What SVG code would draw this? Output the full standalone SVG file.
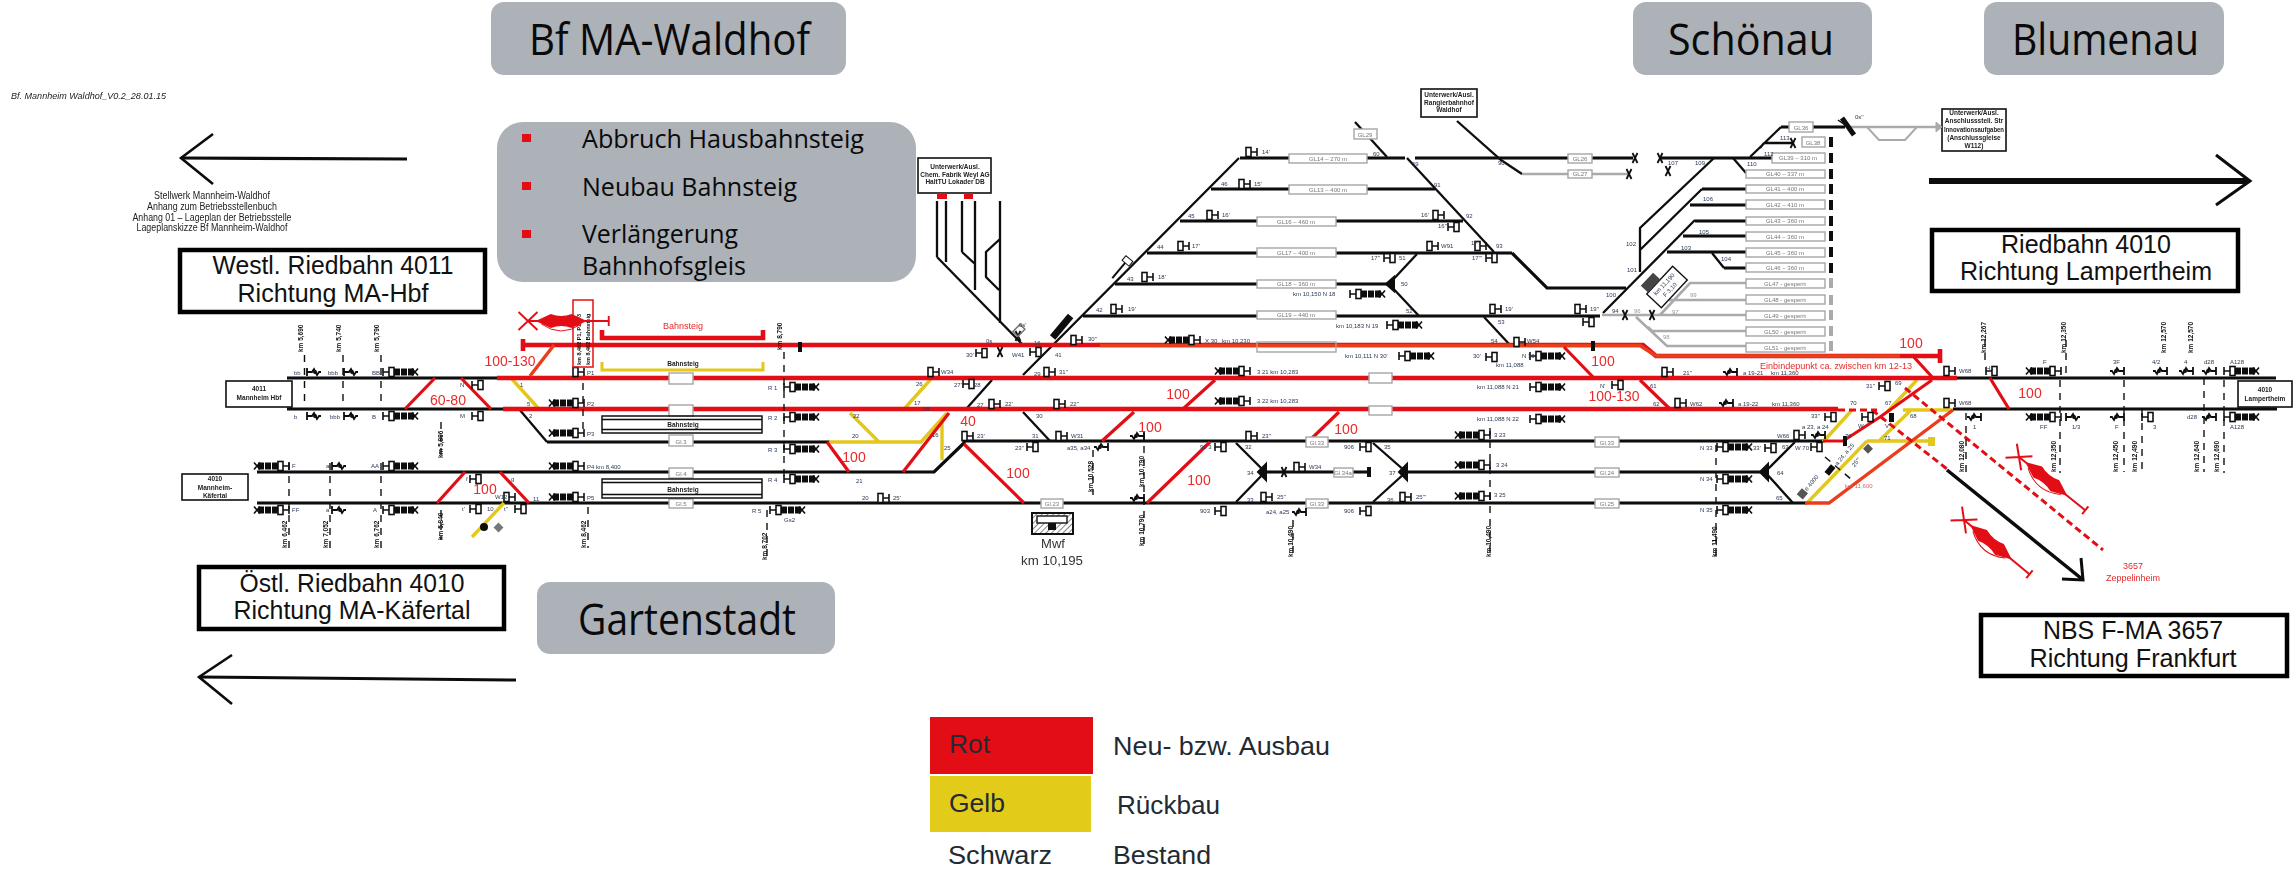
<svg xmlns="http://www.w3.org/2000/svg" width="2293" height="872" viewBox="0 0 2293 872">
<style>
text{font-family:"Liberation Sans",Arial,sans-serif;fill:#1c1c1c}
.h{font-family:"Open Sans",sans-serif;fill:#0a0a0a}
.bx{fill:#adb1b8}
.lab{fill:#fff;stroke:#000;stroke-width:4.5}
.lt{font-size:25px;text-anchor:middle;fill:#111}
.leg{font-size:26px;fill:#222a33}
.sb{fill:#fff;stroke:#111;stroke-width:1.6}
.st{font-size:6.5px;text-anchor:middle;font-weight:bold;fill:#222}
.k,.r,.r2,.r3,.r4,.o,.y,.y2,.g,.g2,.d,.kt,.rd{fill:none}
.k{stroke:#0c0c0c;stroke-width:3.2}
.kt{stroke:#0c0c0c;stroke-width:2.3}
.r{stroke:#e30e15;stroke-width:4.6}
.r2{stroke:#e30e15;stroke-width:3.2}
.r3{stroke:#e30e15;stroke-width:4.6}
.r4{stroke:#e30e15;stroke-width:3}
.o{stroke:#ea3c1e;stroke-width:3.4}
.y{stroke:#e3c71c;stroke-width:3.4}
.y2{stroke:#e3c71c;stroke-width:3}
.g{stroke:#aaa;stroke-width:2.6}
.g2{stroke:#aaa;stroke-width:2}
.d{stroke:#111;stroke-width:1.4;stroke-dasharray:7 6}
.rd{stroke:#e30e15;stroke-width:3;stroke-dasharray:7 4}
.gl{fill:#fff;stroke:#a6a6a6;stroke-width:1.4}
.gt{font-size:6px;text-anchor:middle;fill:#777}
.s{font-size:6px;fill:#2a3a55}
.gy{font-size:6px;fill:#999}
.v{font-size:6.5px;font-weight:bold;fill:#111}
.red{fill:#ea2a2a;font-size:14px;text-anchor:middle}
.rt{fill:#e82a2a;font-size:9px}
.soft{filter:url(#soft)}
</style>
<defs>
<filter id="soft" x="0" y="0" width="100%" height="100%" filterUnits="userSpaceOnUse" primitiveUnits="userSpaceOnUse"><feGaussianBlur stdDeviation="0.45"/></filter>
<g id="sig"><path d="M0-4V4M0 0H-6" fill="none" stroke="#111" stroke-width="1.6"/><rect x="-11" y="-4.5" width="5" height="9" fill="#fff" stroke="#111" stroke-width="1.6"/></g>
<use id="sigm" href="#sig" transform="scale(-1 1)"/>
<g id="blob"><use href="#sig"/><path d="M-11 0H-31" stroke="#111" stroke-width="7" stroke-dasharray="6 1"/><path d="M-35-3.500L-29 3.500M-35 3.500L-29-3.500" stroke="#111" stroke-width="1.600"/></g>
<use id="blobm" href="#blob" transform="scale(-1 1)"/>
<g id="sq"><path d="M0-4V4M0 0H-5l-2-3 -3 6 -2-3H-14" fill="none" stroke="#111" stroke-width="1.8"/><circle cx="-8" cy="0" r="2" fill="#111"/></g>
<use id="sqm" href="#sq" transform="scale(-1 1)"/>
<g id="xm"><path d="M-2.500-5L2.500 5M-2.500 5L2.500-5" stroke="#111" stroke-width="1.800"/></g>
<rect id="stop" x="-2" y="-5" width="4" height="10" fill="#111"/>
<rect id="stopg" x="-2" y="-5" width="4" height="10" fill="#aaa"/>
<g id="rx"><path d="M0 0H85M85-5V5M-10-9L10 9M-10 9L10-9" fill="none" stroke="#e30e15" stroke-width="2"/><path d="M8 0L24-7Q35-3 46-7L62 0L46 7Q35 3 24 7Z" fill="#e30e15"/><path d="M14 3Q35 17 56 3" fill="none" stroke="#e30e15" stroke-width="1"/></g>
<pattern id="hat" width="4" height="4" patternUnits="userSpaceOnUse" patternTransform="rotate(45)"><path d="M0 0V4" stroke="#111" stroke-width="1"/></pattern>
</defs>
<rect width="2293" height="872" fill="#fff"/>

<g id="plan-title" class="soft">
<text x="11" y="99" font-size="9" font-style="italic" textLength="155" lengthAdjust="spacingAndGlyphs">Bf. Mannheim Waldhof_V0.2_28.01.15</text>
<text x="212" y="199" font-size="10" text-anchor="middle" textLength="116" lengthAdjust="spacingAndGlyphs">Stellwerk Mannheim-Waldhof</text>
<text x="212" y="210" font-size="10" text-anchor="middle" textLength="130" lengthAdjust="spacingAndGlyphs">Anhang zum Betriebsstellenbuch</text>
<text x="212" y="221" font-size="10" text-anchor="middle" textLength="159" lengthAdjust="spacingAndGlyphs">Anhang 01 – Lageplan der Betriebsstelle</text>
<text x="212" y="231" font-size="10" text-anchor="middle" textLength="151" lengthAdjust="spacingAndGlyphs">Lageplanskizze Bf Mannheim-Waldhof</text>
</g>

<g id="node-waldhof"><rect class="bx" x="491" y="2" width="355" height="73" rx="13"/><text class="h" x="529" y="55" font-size="44" textLength="281" lengthAdjust="spacingAndGlyphs">Bf MA-Waldhof</text></g>
<g id="node-schoenau"><rect class="bx" x="1633" y="2" width="239" height="73" rx="13"/><text class="h" x="1668" y="55" font-size="44" textLength="166" lengthAdjust="spacingAndGlyphs">Schönau</text></g>
<g id="node-blumenau"><rect class="bx" x="1984" y="2" width="240" height="73" rx="13"/><text class="h" x="2012" y="55" font-size="44" textLength="187" lengthAdjust="spacingAndGlyphs">Blumenau</text></g>
<g id="node-gartenstadt"><rect class="bx" x="537" y="582" width="298" height="72" rx="13"/><text class="h" x="578" y="635" font-size="44" textLength="218" lengthAdjust="spacingAndGlyphs">Gartenstadt</text></g>
<g id="node-massnahmen"><rect class="bx" x="497" y="122" width="419" height="160" rx="26"/>
<g fill="#e30e15"><rect x="522" y="134" width="9" height="8"/><rect x="522" y="182" width="9" height="8"/><rect x="522" y="230" width="9" height="8"/></g>
<text class="h" x="582" y="148" font-size="26" textLength="282" lengthAdjust="spacingAndGlyphs">Abbruch Hausbahnsteig</text>
<text class="h" x="582" y="196" font-size="26" textLength="215" lengthAdjust="spacingAndGlyphs">Neubau Bahnsteig</text>
<text class="h" x="582" y="243" font-size="26" textLength="156" lengthAdjust="spacingAndGlyphs">Verlängerung</text>
<text class="h" x="582" y="275" font-size="26" textLength="164" lengthAdjust="spacingAndGlyphs">Bahnhofsgleis</text></g>

<g id="node-westl"><rect class="lab" x="180" y="250" width="305" height="62"/><text class="lt" x="333" y="274" textLength="241" lengthAdjust="spacingAndGlyphs">Westl. Riedbahn 4011</text><text class="lt" x="333" y="302" textLength="191" lengthAdjust="spacingAndGlyphs">Richtung MA-Hbf</text></g>
<g id="node-lampertheim"><rect class="lab" x="1932" y="230" width="306" height="61"/><text class="lt" x="2086" y="253" textLength="170" lengthAdjust="spacingAndGlyphs">Riedbahn 4010</text><text class="lt" x="2086" y="280" textLength="252" lengthAdjust="spacingAndGlyphs">Richtung Lampertheim</text></g>
<g id="node-oestl"><rect class="lab" x="199" y="567" width="305" height="62"/><text class="lt" x="352" y="592" textLength="225" lengthAdjust="spacingAndGlyphs">Östl. Riedbahn 4010</text><text class="lt" x="352" y="619" textLength="237" lengthAdjust="spacingAndGlyphs">Richtung MA-Käfertal</text></g>
<g id="node-nbs"><rect class="lab" x="1981" y="615" width="306" height="61"/><text class="lt" x="2133" y="639" textLength="180" lengthAdjust="spacingAndGlyphs">NBS F-MA 3657</text><text class="lt" x="2133" y="667" textLength="207" lengthAdjust="spacingAndGlyphs">Richtung Frankfurt</text></g>

<g id="direction-arrows" fill="none" stroke="#0c0c0c">
<path d="M407 159L181 158" stroke-width="3.200"/><path d="M213 134L181 158L213 184" stroke-width="2.600"/>
<path d="M1929 181H2248" stroke-width="6"/><path d="M2216 155L2250 181L2216 205" stroke-width="3"/>
<path d="M516 680L199 677" stroke-width="3"/><path d="M232 655L199 677L232 704" stroke-width="2.600"/>
<path d="M1947 470L2082 579" stroke-width="3.500"/><path d="M2081 558L2083 580L2062 579" stroke-width="3"/>
</g>

<g id="station-boxes" class="soft">
<g id="node-4011"><rect class="sb" x="226" y="381" width="66" height="26"/><text class="st" x="259" y="391">4011</text><text class="st" x="259" y="400">Mannheim Hbf</text></g>
<g id="node-4010-k"><rect class="sb" x="182" y="474" width="66" height="26"/><text class="st" x="215" y="481">4010</text><text class="st" x="215" y="490">Mannheim-</text><text class="st" x="215" y="498">Käfertal</text></g>
<g id="node-4010-l"><rect class="sb" x="2238" y="381" width="54" height="26"/><text class="st" x="2265" y="392">4010</text><text class="st" x="2265" y="401">Lampertheim</text></g>
<g id="node-uw1"><rect class="sb" x="918" y="158" width="73" height="35"/><text class="st" x="955" y="169">Unterwerk/Ausl.</text><text class="st" x="955" y="177">Chem. Fabrik Weyl AG</text><text class="st" x="955" y="184">HaltTU Lokader DB</text></g>
<g id="node-uw2"><rect class="sb" x="1421" y="89" width="56" height="28"/><text class="st" x="1449" y="97">Unterwerk/Ausl.</text><text class="st" x="1449" y="105">Rangierbahnhof</text><text class="st" x="1449" y="112">Waldhof</text></g>
<g id="node-uw3"><rect class="sb" x="1942" y="109" width="64" height="42"/><text class="st" x="1974" y="115">Unterwerk/Ausl.</text><text class="st" x="1974" y="123">Anschlussstell. Str</text><text class="st" x="1974" y="132" textLength="60" lengthAdjust="spacingAndGlyphs">Innovationsaufgaben</text><text class="st" x="1974" y="140">(Anschlussgleise</text><text class="st" x="1974" y="148">W112)</text></g>
<rect x="937" y="193" width="10" height="6" fill="#e30e15"/><rect x="964" y="193" width="9" height="6" fill="#e30e15"/>
</g>

<g id="connectors" class="soft">
<g id="tracks-black">
<path class="k" d="M287 378H500M287 409H506M547 442H830M257 472H934L964 443V441H1825M257 503H1807M1955 378H2276M1953 409H2277"/>
<path class="k" d="M1264 472H1369M1406 472H1765M1240 158H1405M1211 189H1435M1180 221H1463M1147 253H1512M1115 284H1389M1083 316H1600M1512 253L1547 288H1626M1415 158H1633M1659 158H1772M1781 127H1845M1702 189H1746M1690 205H1746M1695 221H1746M1683 236H1746M1667 252H1746M1724 268H1746"/>
<path class="kt" d="M1355 122L1387 157M1407 158L1494 252M1457 121L1501 160L1522 174M1417 254L1389 284L1419 316M1484 317L1510 345M1239 158L1023 375M992 380L967 408M1023 412L1050 441M934 472L964 443M519 409L547 442M1236 443L1265 472L1236 502M1373 443L1406 472L1373 502M1795 442L1765 472L1793 503M1714 158L1640 228V272M1702 189L1640 250M1695 220L1603 313M1733 158L1746 173M1712 253L1724 268M1750 157L1781 127M1764 143H1793M1760 148L1764 143"/>
<path class="kt" d="M937 201V257M946 201V262M962 201V252M975 201V290M1000 201V323M937 257L1023 345M962 252L975 264M1000 239L986 252V277L999 290"/>
<path d="M1258 472l8-8v16zM1399 472l8-8v16zM1760 472l8-8v16zM1386 284l8-7v14z" fill="#111" stroke="#111" stroke-width="2"/>
</g>
<g id="tracks-grey">
<path class="g" d="M1522 174H1629M1602 315H1746M1636 317L1667 346H1746M1648 327L1652 331H1746M1660 315L1690 283H1746M1669 300H1746M1848 127H1938"/>
<path class="g2" d="M1867 127L1879 140H1905L1917 127"/>
<path d="M1936 122L1942 127L1936 132Z" fill="#aaa" stroke="#aaa"/>
</g>
<g id="tracks-yellow">
<path class="y" d="M511 378L539 409M850 413L879 442M829 442H921L947 413M905 408L931 379M942 422V460M504 503L472 537"/>
<path class="y" d="M1873 378H1932M1903 410H1953M1852 410L1823 442M1917 380L1887 412M1910 411L1880 440M1867 441H1930M1867 441L1807 503"/>
<rect x="1928" y="437" width="7" height="9" fill="#e3c71c"/>
<path class="y2" d="M602 362V370H763V362"/>
</g>
<g id="tracks-red">
<path class="r" d="M497 378H1957M503 409H1838"/>
<path class="r3" d="M523 345H1643L1656 356H1940"/>
<path class="o" d="M1100 345.500H1640L1656 356H1900"/>
<path class="r3" d="M523 339V351M1940 349V363"/>
<path class="r3" d="M602 330V338H763V330"/>
<path class="o" d="M554 345L530 376"/>
<path class="r2" d="M435 378L405 409M461 378L491 409M465 472L437 503M500 472L529 503M827 442L849 472M949 413L903 472M964 444L1024 503M1215 380L1184 408M1134 412L1102 441M1339 412L1308 442M1210 442L1147 503M1564 347L1593 377M1640 380L1670 409M1990 378L2009 409M1912 355L1933 378"/>
<path class="o" d="M1953 410L1829 503H1805"/>
<path class="r4" d="M1932 380L1880 417L1843 441H1823"/>
<rect x="1843" y="436" width="4" height="10" fill="#111"/>
<path class="rd" d="M1905 388L2103 550M1872 410L1947 469M1838 410H1877"/>
</g>
<g id="dashes">
<path class="d" d="M304.500 355V405M343 355V405M381 355V405M583 383V433M784 352V477M289 463V548M330 463V548M381 463V548M441 422V458M441 510V540M588 507V548M767 510V560M1144 433V548M1093 450V495M1293 520V557M1490 428V557M1716 445V557M1985 340V365M2066 340V377M2060 380V473M2124 380V472M2142 410V472M2204 378V472M2224 380V473M1966 413V473M1825 457L1852 480"/>
</g>
</g>

<g id="gleis-labels" class="soft">
<rect class="gl" x="669" y="373" width="24" height="11"/><rect class="gl" x="669" y="405" width="24" height="11"/><rect class="gl" x="669" y="435" width="24" height="11"/><text class="gt" x="681" y="444">Gl.3</text>
<rect class="gl" x="669" y="468" width="24" height="10"/><text class="gt" x="681" y="476">Gl.4</text><rect class="gl" x="669" y="499" width="24" height="9"/><text class="gt" x="681" y="506">Gl.5</text>
<rect class="gl" x="1369" y="373" width="23" height="10"/><rect class="gl" x="1369" y="406" width="23" height="9"/>
<rect class="gl" x="1306" y="437" width="22" height="10"/><text class="gt" x="1317" y="445">Gl.33</text><rect class="gl" x="1306" y="499" width="22" height="9"/><text class="gt" x="1317" y="506">Gl.33</text>
<rect class="gl" x="1041" y="499" width="22" height="9"/><text class="gt" x="1052" y="506">Gl.23</text><rect class="gl" x="1334" y="468" width="19" height="9"/><text class="gt" x="1343" y="475">Gl.34a</text>
<rect class="gl" x="1595" y="437" width="24" height="10"/><text class="gt" x="1607" y="445">Gl.33</text><rect class="gl" x="1595" y="468" width="24" height="9"/><text class="gt" x="1607" y="475">Gl.24</text><rect class="gl" x="1595" y="499" width="24" height="9"/><text class="gt" x="1607" y="506">Gl.25</text>
<rect class="gl" x="1289" y="154" width="78" height="9"/><text class="gt" x="1328" y="161">GL14 – 270 m</text>
<rect class="gl" x="1289" y="185" width="78" height="9"/><text class="gt" x="1328" y="192">GL13 – 400 m</text>
<rect class="gl" x="1257" y="217" width="79" height="9"/><text class="gt" x="1296" y="224">GL16 – 460 m</text>
<rect class="gl" x="1257" y="248" width="79" height="9"/><text class="gt" x="1296" y="255">GL17 – 400 m</text>
<rect class="gl" x="1257" y="280" width="79" height="8"/><text class="gt" x="1296" y="286">GL18 – 360 m</text>
<rect class="gl" x="1257" y="311" width="79" height="8"/><text class="gt" x="1296" y="317">GL19 – 440 m</text>
<rect x="1257" y="342" width="79" height="10" fill="none" stroke="#a6a6a6" stroke-width="1.400"/>
<rect class="gl" x="1354" y="129" width="23" height="10"/><text class="gt" x="1365" y="137">GL29</text>
<rect class="gl" x="1568" y="154" width="24" height="9"/><text class="gt" x="1580" y="161">GL26</text><rect class="gl" x="1568" y="170" width="24" height="8"/><text class="gt" x="1580" y="176">GL27</text>
<rect class="gl" x="1789" y="122" width="24" height="10"/><text class="gt" x="1801" y="130">GL36</text><rect class="gl" x="1802" y="137" width="23" height="10"/><text class="gt" x="1813" y="145">GL38</text>
<rect class="gl" x="1772" y="153" width="53" height="10"/><text class="gt" x="1798" y="160">GL39 – 310 m</text>
<rect class="gl" x="1746" y="170" width="79" height="8"/><text class="gt" x="1785" y="176">GL40 – 337 m</text>
<rect class="gl" x="1746" y="185" width="79" height="8"/><text class="gt" x="1785" y="191">GL41 – 400 m</text>
<rect class="gl" x="1746" y="200" width="79" height="9"/><text class="gt" x="1785" y="207">GL42 – 410 m</text>
<rect class="gl" x="1746" y="217" width="79" height="8"/><text class="gt" x="1785" y="223">GL43 – 360 m</text>
<rect class="gl" x="1746" y="232" width="79" height="9"/><text class="gt" x="1785" y="239">GL44 – 360 m</text>
<rect class="gl" x="1746" y="248" width="79" height="9"/><text class="gt" x="1785" y="255">GL45 – 360 m</text>
<rect class="gl" x="1746" y="263" width="79" height="9"/><text class="gt" x="1785" y="270">GL46 – 360 m</text>
<rect class="gl" x="1746" y="279" width="79" height="9"/><text class="gt" x="1785" y="286">GL47 - gesperrt</text>
<rect class="gl" x="1746" y="295" width="79" height="9"/><text class="gt" x="1785" y="302">GL48 - gesperrt</text>
<rect class="gl" x="1746" y="311" width="79" height="9"/><text class="gt" x="1785" y="318">GL49 - gesperrt</text>
<rect class="gl" x="1746" y="327" width="79" height="9"/><text class="gt" x="1785" y="334">GL50 - gesperrt</text>
<rect class="gl" x="1746" y="343" width="79" height="9"/><text class="gt" x="1785" y="350">GL51 - gesperrt</text>
</g>

<g id="bumpers" class="soft">
<use href="#stop" x="1831" y="158"/><use href="#stop" x="1831" y="142"/><use href="#stop" x="1831" y="174"/><use href="#stop" x="1831" y="189"/><use href="#stop" x="1831" y="205"/><use href="#stop" x="1831" y="221"/><use href="#stop" x="1831" y="236"/><use href="#stop" x="1831" y="252"/><use href="#stop" x="1831" y="268"/>
<use href="#stopg" x="1831" y="283"/><use href="#stopg" x="1831" y="300"/><use href="#stopg" x="1831" y="315"/><use href="#stopg" x="1831" y="331"/><use href="#stopg" x="1831" y="346"/>
<use href="#stop" x="1369" y="472"/><use href="#stop" x="800" y="347"/><use href="#stop" x="1593" y="346"/>
<use href="#xm" x="1635" y="158"/><use href="#xm" x="1660" y="158"/><use href="#xm" x="1629" y="174"/><use href="#xm" x="1668" y="171"/><use href="#xm" x="1793" y="143"/><use href="#xm" x="1625" y="315"/><use href="#xm" x="1652" y="315"/><use href="#xm" x="1284" y="472"/><use href="#xm" x="1018" y="336"/><use href="#xm" x="1000" y="352"/>
<path d="M1842 118L1854 135" stroke="#111" stroke-width="5"/><path d="M1848 127L1838 120" stroke="#111" stroke-width="1.500"/>
</g>

<g id="signals" class="soft">
<use href="#sqm" x="307" y="372"/><use href="#sqm" x="344" y="372"/><use href="#blobm" x="383" y="372"/><use href="#sqm" x="307" y="416"/><use href="#sqm" x="344" y="416"/><use href="#blobm" x="383" y="416"/>
<use href="#blob" x="289" y="466"/><use href="#sqm" x="332" y="466"/><use href="#blobm" x="383" y="466"/><use href="#blob" x="289" y="510"/><use href="#sqm" x="332" y="510"/><use href="#blobm" x="383" y="510"/>
<use href="#sigm" x="472" y="416"/><use href="#sigm" x="472" y="385"/><use href="#sigm" x="470" y="479"/><use href="#sigm" x="470" y="509"/><use href="#sigm" x="515" y="509"/><use href="#sig" x="515" y="497"/>
<use href="#sig" x="584" y="372"/><use href="#blob" x="584" y="403"/><use href="#blob" x="584" y="433"/><use href="#blob" x="584" y="466"/><use href="#blob" x="584" y="497"/>
<use href="#blobm" x="784" y="387"/><use href="#blobm" x="784" y="417"/><use href="#blobm" x="784" y="449"/><use href="#blobm" x="784" y="479"/><use href="#blobm" x="770" y="510"/>
<use href="#sigm" x="976" y="353"/><use href="#sigm" x="1030" y="352"/><use href="#sig" x="1082" y="340"/><use href="#blob" x="1200" y="340"/>
<use href="#blobm" x="1399" y="356"/><use href="#sigm" x="1486" y="357"/><use href="#blobm" x="1530" y="356"/><use href="#sig" x="1525" y="342"/>
<use href="#sig" x="1122" y="309"/><use href="#sig" x="1153" y="277"/><use href="#sig" x="1189" y="246"/><use href="#sig" x="1218" y="215"/><use href="#sig" x="1250" y="184"/><use href="#sig" x="1257" y="152"/>
<use href="#sig" x="1444" y="215"/><use href="#sigm" x="1448" y="227"/><use href="#sig" x="1486" y="246"/><use href="#sigm" x="1384" y="258"/><use href="#sigm" x="1486" y="258"/><use href="#sig" x="1438" y="246"/>
<use href="#blobm" x="1350" y="294"/><use href="#blobm" x="1387" y="325"/><use href="#sig" x="1501" y="309"/><use href="#sig" x="1586" y="309"/><use href="#sigm" x="1583" y="322"/>
<use href="#sig" x="1673" y="372"/><use href="#sq" x="1737" y="372"/><use href="#sigm" x="1612" y="385"/>
<use href="#sig" x="1686" y="403"/><use href="#sq" x="1733" y="403"/><use href="#sigm" x="1825" y="417"/><use href="#sig" x="1805" y="435"/><use href="#sq" x="1825" y="435"/><use href="#blobm" x="1717" y="447"/><use href="#blobm" x="1717" y="479"/><use href="#blobm" x="1717" y="510"/><use href="#sigm" x="1765" y="448"/><use href="#sigm" x="1811" y="447"/>
<use href="#sig" x="1955" y="371"/><use href="#sig" x="1955" y="403"/><use href="#sigm" x="1879" y="386"/><use href="#sigm" x="1862" y="417"/>
<use href="#sq" x="1981" y="417"/><use href="#sigm" x="1986" y="371"/><use href="#blob" x="2061" y="371"/><use href="#sq" x="2124" y="371"/><use href="#sq" x="2167" y="371"/><use href="#sq" x="2193" y="371"/><use href="#sq" x="2216" y="371"/><use href="#blobm" x="2224" y="371"/>
<use href="#blob" x="2061" y="417"/><use href="#sqm" x="2066" y="417"/><use href="#sq" x="2124" y="417"/><use href="#sigm" x="2142" y="417"/><use href="#sq" x="2216" y="417"/><use href="#blobm" x="2224" y="417"/>
<use href="#sig" x="939" y="372"/><use href="#sigm" x="963" y="384"/><use href="#sig" x="1055" y="372"/><use href="#sig" x="1000" y="404"/><use href="#sig" x="1065" y="404"/><use href="#sig" x="973" y="436"/><use href="#sig" x="1067" y="436"/><use href="#sigm" x="1027" y="447"/><use href="#sq" x="1108" y="447"/><use href="#sig" x="889" y="498"/>
<use href="#sq" x="1144" y="436"/><use href="#sq" x="1144" y="498"/><use href="#sigm" x="1215" y="447"/><use href="#sigm" x="1215" y="511"/><use href="#sig" x="1257" y="436"/><use href="#sig" x="1305" y="467"/><use href="#sig" x="1272" y="497"/><use href="#sq" x="1306" y="512"/><use href="#sigm" x="1360" y="447"/><use href="#sigm" x="1360" y="511"/><use href="#sig" x="1411" y="497"/>
<use href="#blob" x="1250" y="371"/><use href="#blob" x="1250" y="401"/><use href="#blobm" x="1530" y="387"/><use href="#blobm" x="1530" y="419"/><use href="#blob" x="1490" y="435"/><use href="#blob" x="1490" y="465"/><use href="#blob" x="1490" y="496"/>
<circle cx="484" cy="527" r="4" fill="#111"/><rect x="495" y="524" width="7" height="7" fill="#777" transform="rotate(45 498.500 527.500)"/>
<g transform="rotate(-50 1062 327)"><rect x="1048" y="323" width="28" height="7" fill="#111"/></g>
<g transform="rotate(-50 1120 269)"><path d="M1108 269H1128" stroke="#111" stroke-width="2"/><rect x="1128" y="265" width="6" height="9" fill="none" stroke="#111"/></g>
<g transform="rotate(-45 1020 330)"><rect x="1014" y="326" width="10" height="7" fill="none" stroke="#777" stroke-width="1.500"/></g>
<g transform="rotate(-47 1667 287)"><rect x="1648" y="277" width="38" height="20" fill="#fff" stroke="#111" stroke-width="1.400"/><rect x="1650" y="267" width="18" height="10" fill="#444"/><text class="s" x="1667" y="285" text-anchor="middle">km 11,190</text><text class="s" x="1667" y="293" text-anchor="middle">F 3,10</text></g>
<g transform="rotate(-50 1803 493)"><rect x="1798" y="489" width="8" height="8" fill="#555"/><text class="s" x="1807" y="495">e 4000</text></g>
<g transform="rotate(-50 1830 470)"><rect x="1825" y="467" width="10" height="6" fill="#111"/><text class="s" x="1838" y="473">a 24, a 25</text></g>
<g transform="rotate(-50 1858 460)"><text class="s" x="1850" y="462">25'''</text></g>
<rect x="1865" y="445" width="7" height="7" fill="#555" transform="rotate(45 1868 448)"/>
<rect x="1889" y="413" width="5" height="9" fill="#111"/>
</g>

<g id="small-labels" class="soft">
<text class="s" x="294" y="375">bb</text><text class="s" x="328" y="375">bbb</text><text class="s" x="372" y="375">BB</text><text class="s" x="294" y="419">b</text><text class="s" x="330" y="419">bbb</text><text class="s" x="372" y="419">B</text>
<text class="s" x="292" y="468">F</text><text class="s" x="326" y="468">aa</text><text class="s" x="371" y="468">AA</text><text class="s" x="292" y="512">FF</text><text class="s" x="326" y="512">a</text><text class="s" x="373" y="512">A</text>
<text class="s" x="460" y="418">M</text><text class="s" x="460" y="387">N</text><text class="s" x="466" y="481">f</text><text class="s" x="462" y="511">t'</text><text class="s" x="487" y="511">10</text><text class="s" x="504" y="511">t''</text><text class="s" x="495" y="499">W12</text><text class="s" x="533" y="501">11</text><text class="s" x="511" y="481">g</text>
<text class="s" x="520" y="387">1</text><text class="s" x="527" y="406">5</text><text class="s" x="529" y="418">2</text>
<text class="s" x="587" y="375">P1</text><text class="s" x="587" y="406">P2</text><text class="s" x="587" y="436">P3</text><text class="s" x="587" y="469">P4 km 8,400</text><text class="s" x="587" y="500">P5</text>
<text class="s" x="768" y="390">R 1</text><text class="s" x="768" y="420">R 2</text><text class="s" x="768" y="452">R 3</text><text class="s" x="768" y="482">R 4</text><text class="s" x="752" y="513">R 5</text><text class="s" x="784" y="522">Gs2</text>
<text class="s" x="853" y="418">22</text><text class="s" x="852" y="438">20</text><text class="s" x="856" y="483">21</text><text class="s" x="862" y="500">20</text>
<text class="s" x="916" y="386">26</text><text class="s" x="914" y="405">17</text><text class="s" x="923" y="411">18</text><text class="s" x="932" y="437">16</text><text class="s" x="944" y="450">25</text>
<text class="s" x="954" y="387">27'</text><text class="s" x="974" y="387">28</text><text class="s" x="977" y="407">27</text><text class="s" x="1034" y="376">29</text><text class="s" x="1036" y="418">30</text><text class="s" x="1032" y="438">31</text>
<text class="s" x="977" y="438">23'</text><text class="s" x="1071" y="438">W31</text><text class="s" x="1015" y="450">23''</text><text class="s" x="1067" y="450">a35, a34</text><text class="s" x="1005" y="406">22'</text><text class="s" x="1059" y="374">31''</text><text class="s" x="1070" y="406">22''</text><text class="s" x="893" y="500">25'</text>
<text class="s" x="941" y="374">W34</text>
<text class="s" x="1034" y="345">16</text><text class="s" x="986" y="343">0s</text><text class="s" x="1019" y="327">0s'</text><text class="s" x="966" y="357">30'</text><text class="s" x="1012" y="357">W41</text><text class="s" x="1055" y="357">41</text><text class="s" x="1088" y="341">30''</text>
<text class="s" x="1205" y="343">X 30</text><text class="s" x="1222" y="343">km 10,230</text><text class="s" x="1345" y="358">km 10,111 N 30'</text><text class="s" x="1473" y="358">30'</text><text class="s" x="1522" y="358">N 30''</text><text class="s" x="1491" y="343">54</text><text class="s" x="1527" y="343">W54</text>
<text class="s" x="1096" y="312">42</text><text class="s" x="1128" y="311">19'</text><text class="s" x="1127" y="281">43</text><text class="s" x="1158" y="279">18'</text><text class="s" x="1157" y="249">44</text><text class="s" x="1192" y="248">17'</text><text class="s" x="1188" y="218">45</text><text class="s" x="1222" y="217">16'</text><text class="s" x="1221" y="186">46</text><text class="s" x="1254" y="186">15'</text><text class="s" x="1262" y="154">14'</text>
<text class="s" x="1373" y="156">60</text><text class="s" x="1412" y="166">59</text><text class="s" x="1434" y="187">91</text><text class="s" x="1466" y="218">92</text><text class="s" x="1421" y="217">16'</text><text class="s" x="1438" y="228">16''</text><text class="s" x="1498" y="165">90</text>
<text class="s" x="1496" y="248">93</text><text class="s" x="1471" y="245">17'</text><text class="s" x="1371" y="260">17''</text><text class="s" x="1399" y="260">51</text><text class="s" x="1472" y="260">17'''</text><text class="s" x="1441" y="248">W91</text>
<text class="s" x="1293" y="296">km 10,150 N 18</text><text class="s" x="1336" y="328">km 10,183 N 19</text><text class="s" x="1505" y="311">19'</text><text class="s" x="1590" y="311">19''</text><text class="s" x="1401" y="286">50</text><text class="s" x="1406" y="313">52</text><text class="s" x="1498" y="324">53</text>
<text class="s" x="1668" y="165">107</text><text class="s" x="1695" y="165">109</text><text class="s" x="1747" y="166">110</text><text class="s" x="1764" y="156">112</text><text class="s" x="1780" y="140">113</text><text class="s" x="1703" y="201">106</text><text class="s" x="1699" y="234">105</text><text class="s" x="1681" y="250">103</text><text class="s" x="1721" y="261">104</text><text class="s" x="1626" y="246">102</text><text class="s" x="1627" y="272">101</text><text class="s" x="1606" y="297">100</text><text class="s" x="1612" y="313">94</text>
<text class="gy" x="1690" y="297">99</text><text class="gy" x="1672" y="314">97</text><text class="gy" x="1663" y="339">98</text><text class="gy" x="1634" y="313">96</text>
<text class="s" x="1855" y="119">0s''</text>
<text class="s" x="1683" y="375">21''</text><text class="s" x="1743" y="375">a 19-21</text><text class="s" x="1771" y="375">km 11,360</text><text class="s" x="1600" y="388">N'</text><text class="s" x="1650" y="388">61</text><text class="s" x="1653" y="406">62</text><text class="s" x="1690" y="406">W62</text><text class="s" x="1738" y="406">a 19-22</text><text class="s" x="1772" y="406">km 11,360</text>
<text class="s" x="1811" y="418">33''</text><text class="s" x="1777" y="438">W66</text><text class="s" x="1802" y="429">a 23, a 24</text><text class="s" x="1700" y="450">N 33</text><text class="s" x="1753" y="450">33'</text><text class="s" x="1795" y="450">W 70</text><text class="s" x="1700" y="481">N 34</text><text class="s" x="1700" y="512">N 35</text><text class="s" x="1782" y="449">63</text><text class="s" x="1777" y="475">64</text><text class="s" x="1776" y="500">65</text>
<text class="s" x="1959" y="373">W68</text><text class="s" x="1959" y="405">W68</text><text class="s" x="1866" y="388">31''</text><text class="s" x="1895" y="385">69</text><text class="s" x="1850" y="405">70</text><text class="s" x="1885" y="405">67</text><text class="s" x="1910" y="418">68</text><text class="s" x="1858" y="428">W</text><text class="s" x="1885" y="428">V</text><text class="s" x="1884" y="440">71</text><text class="s" x="1845" y="438">70</text>
<text class="s" x="1845" y="488" style="fill:#d66">km 11,600</text>
<text class="s" x="1986" y="370">H1</text><text class="s" x="2043" y="364">F</text><text class="s" x="2113" y="364">3F</text><text class="s" x="2152" y="364">4/2</text><text class="s" x="2184" y="364">4</text><text class="s" x="2204" y="364">d28</text><text class="s" x="2230" y="364">A128</text>
<text class="s" x="1973" y="429">1</text><text class="s" x="2040" y="429">FF</text><text class="s" x="2072" y="429">1/3</text><text class="s" x="2115" y="429">F</text><text class="s" x="2153" y="429">3</text><text class="s" x="2187" y="419">d28</text><text class="s" x="2230" y="429">A128</text>
<text class="s" x="1257" y="374">3 21 km 10,283</text><text class="s" x="1257" y="403">3 22 km 10,283</text><text class="s" x="1496" y="367">km 11,088</text><text class="s" x="1477" y="389">km 11,088 N 21</text><text class="s" x="1477" y="421">km 11,088 N 22</text>
<text class="s" x="1494" y="437">3 23</text><text class="s" x="1496" y="467">3 24</text><text class="s" x="1494" y="497">3 25</text>
<text class="s" x="1200" y="449">90 3</text><text class="s" x="1200" y="513">903</text><text class="s" x="1344" y="449">906</text><text class="s" x="1344" y="513">906</text><text class="s" x="1245" y="449">32</text><text class="s" x="1247" y="475">34</text><text class="s" x="1247" y="502">33</text><text class="s" x="1384" y="449">35</text><text class="s" x="1389" y="475">37</text><text class="s" x="1387" y="502">36</text>
<text class="s" x="1262" y="438">23''</text><text class="s" x="1309" y="469">W34</text><text class="s" x="1277" y="499">25''</text><text class="s" x="1266" y="514">a24, a25</text><text class="s" x="1416" y="499">25'''</text>
</g>

<g id="km-labels" class="soft">
<text class="v" transform="rotate(-90 303 352)" x="303" y="352">km 5,690</text><text class="v" transform="rotate(-90 341 352)" x="341" y="352">km 5,740</text><text class="v" transform="rotate(-90 379 352)" x="379" y="352">km 5,790</text>
<text class="v" transform="rotate(-90 287 548)" x="287" y="548">km 6,462</text><text class="v" transform="rotate(-90 328 548)" x="328" y="548">km 7,052</text><text class="v" transform="rotate(-90 379 548)" x="379" y="548">km 6,762</text>
<text class="v" transform="rotate(-90 443 458)" x="443" y="458">km 5,896</text><text class="v" transform="rotate(-90 443 540)" x="443" y="540">km 5,840</text>
<text class="v" transform="rotate(-90 586 548)" x="586" y="548">km 8,462</text><text class="v" transform="rotate(-90 782 350)" x="782" y="350">km 8,790</text><text class="v" transform="rotate(-90 767 560)" x="767" y="560">km 8,702</text>
<text class="v" transform="rotate(-90 581 365)" x="581" y="365" style="font-size:5.500px">km 8,462 P1, P2, P3</text><text class="v" transform="rotate(-90 590 365)" x="590" y="365" style="font-size:5.500px">km 8,462 Bahnsteig</text>
<text class="v" transform="rotate(-90 1093 492)" x="1093" y="492">km 10,528</text><text class="v" transform="rotate(-90 1144 487)" x="1144" y="487">km 10,790</text><text class="v" transform="rotate(-90 1144 546)" x="1144" y="546">km 10,790</text><text class="v" transform="rotate(-90 1293 557)" x="1293" y="557">km 10,490</text><text class="v" transform="rotate(-90 1491 557)" x="1491" y="557">km 10,490</text><text class="v" transform="rotate(-90 1717 557)" x="1717" y="557">km 11,490</text>
<text class="v" transform="rotate(-90 1986 353)" x="1986" y="353">km 12,267</text><text class="v" transform="rotate(-90 2066 353)" x="2066" y="353">km 12,350</text><text class="v" transform="rotate(-90 2166 353)" x="2166" y="353">km 12,570</text><text class="v" transform="rotate(-90 2193 353)" x="2193" y="353">km 12,570</text>
<text class="v" transform="rotate(-90 1964 472)" x="1964" y="472">km 12,080</text><text class="v" transform="rotate(-90 2056 472)" x="2056" y="472">km 12,350</text><text class="v" transform="rotate(-90 2118 472)" x="2118" y="472">km 12,450</text><text class="v" transform="rotate(-90 2137 472)" x="2137" y="472">km 12,490</text><text class="v" transform="rotate(-90 2199 472)" x="2199" y="472">km 12,640</text><text class="v" transform="rotate(-90 2219 472)" x="2219" y="472">km 12,690</text>
</g>

<g id="platforms" class="soft">
<g id="p-red"><text class="rt" x="683" y="329" text-anchor="middle">Bahnsteig</text></g>
<text x="683" y="366" font-size="6.500" text-anchor="middle" font-weight="bold">Bahnsteig</text>
<g id="p2" fill="none" stroke="#111" stroke-width="1.500"><rect x="602" y="416" width="160" height="17"/><path d="M602 419.500H762M602 429.500H762"/></g><text x="683" y="427" font-size="6.500" text-anchor="middle" font-weight="bold">Bahnsteig</text>
<g id="p3" fill="none" stroke="#111" stroke-width="1.500"><rect x="602" y="479" width="160" height="19"/><path d="M602 482.500H762M602 494.500H762"/></g><text x="683" y="492" font-size="6.500" text-anchor="middle" font-weight="bold">Bahnsteig</text>
</g>

<g id="mwf">
<rect x="1032" y="513" width="41" height="21" fill="url(#hat)" stroke="#111" stroke-width="2"/><rect x="1037" y="516" width="30" height="7" fill="#fff" stroke="#111" stroke-width="1.400"/><rect x="1048" y="523" width="8" height="7" fill="#111"/>
<text x="1053" y="548" font-size="13" text-anchor="middle" style="fill:#333">Mwf</text><text x="1052" y="565" font-size="13" text-anchor="middle" style="fill:#333" textLength="62" lengthAdjust="spacingAndGlyphs">km 10,195</text>
</g>

<g id="red-annotations" class="soft">
<rect x="573" y="300" width="20" height="67" fill="none" stroke="#e30e15" stroke-width="1.500"/>
<use href="#rx" transform="translate(528 321) scale(.95 1)"/>
<use href="#rx" transform="translate(2019 457) rotate(38.800)"/>
<use href="#rx" transform="translate(1964 520) rotate(39.600)"/>
<text class="red" x="510" y="366" textLength="51" lengthAdjust="spacingAndGlyphs">100-130</text>
<text class="red" x="448" y="405" textLength="36" lengthAdjust="spacingAndGlyphs">60-80</text>
<text class="red" x="485" y="494">100</text><text class="red" x="854" y="462">100</text><text class="red" x="968" y="426">40</text><text class="red" x="1018" y="478">100</text><text class="red" x="1178" y="399">100</text><text class="red" x="1150" y="432">100</text><text class="red" x="1346" y="434">100</text><text class="red" x="1199" y="485">100</text>
<text class="red" x="1603" y="366">100</text><text class="red" x="1614" y="401" textLength="51" lengthAdjust="spacingAndGlyphs">100-130</text><text class="red" x="1911" y="348">100</text><text class="red" x="2030" y="398">100</text>
<text class="rt" x="1760" y="369" textLength="152" lengthAdjust="spacingAndGlyphs">Einbindepunkt ca. zwischen km 12-13</text>
<text class="rt" x="2133" y="569" text-anchor="middle">3657</text><text class="rt" x="2133" y="581" text-anchor="middle">Zeppelinheim</text>
</g>

<g id="legend">
<rect x="930" y="717" width="163" height="57" fill="#e30e15"/><rect x="930" y="776" width="161" height="56" fill="#e3cc19"/>
<text class="leg" x="949" y="753" textLength="41" lengthAdjust="spacingAndGlyphs">Rot</text><text class="leg" x="949" y="812" textLength="56" lengthAdjust="spacingAndGlyphs">Gelb</text><text class="leg" x="948" y="864" textLength="104" lengthAdjust="spacingAndGlyphs">Schwarz</text>
<text class="leg" x="1113" y="755" textLength="217" lengthAdjust="spacingAndGlyphs">Neu- bzw. Ausbau</text><text class="leg" x="1117" y="814" textLength="103" lengthAdjust="spacingAndGlyphs">Rückbau</text><text class="leg" x="1113" y="864" textLength="98" lengthAdjust="spacingAndGlyphs">Bestand</text>
</g>
</svg>
